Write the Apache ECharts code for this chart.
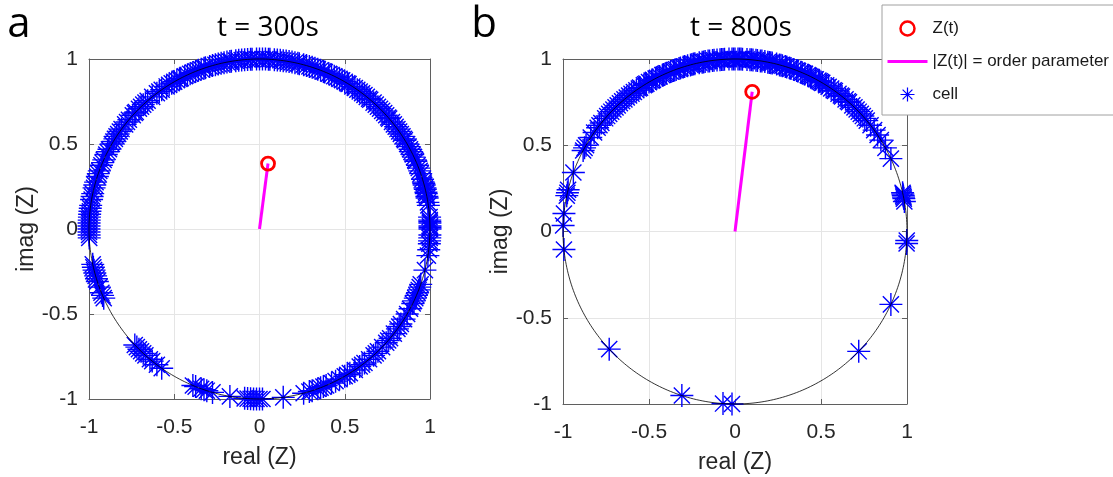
<!DOCTYPE html>
<html>
<head>
<meta charset="UTF-8">
<title>Z(t) order parameter</title>
<script src="https://cdn.jsdelivr.net/npm/echarts@6/dist/echarts.min.js"></script>
<style>
  html, body { margin: 0; padding: 0; background: #fff; }
  #main { width: 1113px; height: 477px; }
</style>
</head>
<body>
<div id="main"></div>
<script>
// cell phases in degrees
var phase300 = [
  0, 0.5, 1, 2, 2.5, 3, 4, 8, 9, 10.5, 11, 12, 12.5, 13.5, 14, 15, 15.5, 16, 17,
  19, 20, 21, 22, 23.5, 24, 25, 26, 27, 28, 29, 30, 31.5, 32, 33, 34, 35, 36, 37, 38, 39,
  40.5, 41, 42, 43, 44, 45, 46, 47, 48, 49.5, 50, 51, 52, 53, 54, 55, 56, 57, 58.5, 59,
  60, 61, 62, 63, 64, 65, 66, 67.5, 68, 69, 70, 71, 72, 73, 74, 75, 76.5, 77,
  78, 79, 80, 81, 82, 83, 84, 85, 86.5, 87, 88, 89,
  90, 91, 92.5, 93, 94, 95, 96, 97, 98, 99.5, 100, 101, 102, 103, 104, 105, 106, 107,
  108.5, 109, 110, 111, 112, 113, 114, 115, 116, 117.5, 118, 119, 120, 121, 122, 123,
  125, 126, 127, 129, 131, 132, 133, 134, 135, 136.5, 137, 138, 140, 141, 142,
  144, 145, 146, 147, 148, 149, 150, 152, 153, 154, 156, 157, 158, 160, 161, 162, 164,
  165, 166, 168, 169, 170, 172, 173, 174, 175, 176, 177, 178, 179, 180,
  181, 182, 183, 192, 193, 194, 195, 196, 197, 198, 200, 202, 203, 204,
  223, 224, 225, 226, 227, 228, 230, 231, 233, 235,
  247, 248, 250, 251, 252, 254, 260, 265, 266, 267, 268, 269, 270, 271, 278,
  285, 287, 288, 290, 291, 292, 293, 295, 296.5, 298, 300, 301, 302, 304, 306, 307, 308,
  310, 312, 313, 314, 316, 318, 319, 320, 322, 324, 325, 326, 328, 330, 332, 334, 335,
  336, 337, 338, 339, 340, 341, 346, 351, 353, 355, 356, 357, 358
];
var phase800 = [
  10, 11, 11.5, 12, 12.5, 13,
  25, 29, 32, 34, 36, 38, 40, 41, 42, 43, 44, 45, 46, 47, 48.5, 49, 50, 51.5, 52, 53,
  54.5, 55, 56, 57, 58, 59.5, 60, 60.5, 61, 62, 63.5, 64, 64.5, 65, 66, 67, 67.5, 68.5,
  69, 70, 71, 71.5, 72.5, 73, 74, 74.5, 75, 76, 77.5, 78, 78.5, 79, 80, 81, 81.5, 82.5,
  83, 84, 84.5, 85, 86, 87.5, 88, 88.5, 89, 90, 90.5, 91, 92, 93.5, 94, 94.5, 95, 96,
  97, 97.5, 98.5, 99, 100, 100.5, 101, 102, 103.5, 104, 104.5, 105, 106, 107, 107.5,
  108.5, 109, 110, 110.5, 111, 112, 113.5, 114, 114.5, 115, 116, 117, 117.5, 118.5,
  119, 120, 121, 121.5, 122, 123.5, 124, 125, 126, 127, 128, 129, 130, 131, 132, 133,
  134, 135, 136, 137, 138, 139, 141, 142, 143, 145, 147, 150, 151, 152,
  160, 166, 167, 168, 174, 178, 186,
  223, 252, 266, 269, 316, 335, 356, 357
];
// mean field Z(t) = real + i*imag
var z300 = [0.05, 0.385];
var z800 = [0.10, 0.81];

var axisMin = -1, axisMax = 1, axisStep = 0.5;
var panelTitles = ['t = 300s', 't = 800s'];
var panelLetters = ['a', 'b'];

var STAR = 'path://M0,-10L0,10M-10,0L10,0M-7,-7L7,7M-7,7L7,-7';
var INK = '#262626';
var BOX = '#5f5f5f';

function toPoints(phases) {
  return phases.map(function (a) {
    var r = a * Math.PI / 180;
    return [Math.cos(r), Math.sin(r)];
  });
}

// the reference unit circle
var circle = [];
for (var k = 0; k <= 360; k++) {
  circle.push([Math.cos(k * Math.PI / 180), Math.sin(k * Math.PI / 180)]);
}

var grids = [
  { left: 89, top: 59, width: 341, height: 340, outerBoundsMode: 'none' },
  { left: 563, top: 59, width: 344, height: 345, outerBoundsMode: 'none' }
];

var xAxes = [], yAxes = [], series = [];
var dataSets = [[phase300, z300], [phase800, z800]];

for (var g = 0; g < 2; g++) {
  var tick = { show: true, inside: true, length: 5, lineStyle: { color: BOX } };
  var line = { show: true, onZero: false, lineStyle: { color: BOX, width: 1 } };
  xAxes.push({
    gridIndex: g, type: 'value', position: 'bottom',
    min: axisMin, max: axisMax, interval: axisStep,
    name: 'real (Z)', nameLocation: 'middle', nameGap: 47,
    nameTextStyle: { fontSize: 23, color: INK, fontFamily: 'Liberation Sans' },
    axisLine: line, axisTick: tick,
    axisLabel: { show: true, fontSize: 21, color: INK, margin: 18, fontFamily: 'Liberation Sans' },
    splitLine: { show: true, lineStyle: { color: '#e5e5e5', width: 1 } }
  });
  xAxes.push({
    gridIndex: g, type: 'value', position: 'top',
    min: axisMin, max: axisMax, interval: axisStep,
    axisLine: line, axisTick: tick, axisLabel: { show: false }, splitLine: { show: false }
  });
  yAxes.push({
    gridIndex: g, type: 'value', position: 'left',
    min: axisMin, max: axisMax, interval: axisStep,
    name: 'imag (Z)', nameLocation: 'middle', nameGap: 51,
    nameTextStyle: { fontSize: 23, color: INK, fontFamily: 'Liberation Sans' },
    axisLine: line, axisTick: tick,
    axisLabel: { show: true, fontSize: 21, color: INK, margin: 11, fontFamily: 'Liberation Sans' },
    splitLine: { show: true, lineStyle: { color: '#e5e5e5', width: 1 } }
  });
  yAxes.push({
    gridIndex: g, type: 'value', position: 'right',
    min: axisMin, max: axisMax, interval: axisStep,
    axisLine: line, axisTick: tick, axisLabel: { show: false }, splitLine: { show: false }
  });

  var xi = g * 2, yi = g * 2;
  var z = dataSets[g][1];
  series.push({
    name: 'cell', type: 'scatter', xAxisIndex: xi, yAxisIndex: yi,
    data: toPoints(dataSets[g][0]),
    symbol: STAR, symbolSize: 23, clip: false, z: 2,
    itemStyle: { color: '#0000ff', borderColor: '#0000ff', borderWidth: 1.4, opacity: 1 },
    emphasis: { disabled: true }
  });
  series.push({
    name: 'unit circle', type: 'line', xAxisIndex: xi, yAxisIndex: yi,
    data: circle, symbol: 'none', smooth: false, clip: false, z: 3, silent: true,
    lineStyle: { color: '#000', width: 0.8 }
  });
  series.push({
    name: '|Z(t)| = order parameter', type: 'line', xAxisIndex: xi, yAxisIndex: yi,
    data: [[0, 0], z], symbol: 'none', z: 4,
    itemStyle: { color: '#ff00ff' },
    lineStyle: { color: '#ff00ff', width: 3 }
  });
  series.push({
    name: 'Z(t)', type: 'scatter', xAxisIndex: xi, yAxisIndex: yi,
    data: [z], symbol: 'circle', symbolSize: 13, z: 5, clip: false,
    itemStyle: { color: 'rgba(0,0,0,0)', borderColor: '#ff0000', borderWidth: 2.8, opacity: 1 }
  });
}

var graphics = [
  { type: 'text', x: 268, y: 28, style: { text: panelTitles[0], font: '28px "Open Sans"', fill: '#000', textAlign: 'center', textVerticalAlign: 'middle' } },
  { type: 'text', x: 741, y: 28, style: { text: panelTitles[1], font: '28px "Open Sans"', fill: '#000', textAlign: 'center', textVerticalAlign: 'middle' } },
  { type: 'text', x: 19, y: 25, style: { text: panelLetters[0], font: '42px "Open Sans"', fill: '#000', textAlign: 'center', textVerticalAlign: 'middle' } },
  { type: 'text', x: 484, y: 25, style: { text: panelLetters[1], font: '42px "Open Sans"', fill: '#000', textAlign: 'center', textVerticalAlign: 'middle' } }
];

var myChart = echarts.init(document.getElementById('main'), null, { renderer: 'canvas' });
myChart.setOption({
  animation: false,
  backgroundColor: '#fff',
  grid: grids,
  xAxis: xAxes,
  yAxis: yAxes,
  legend: {
    orient: 'vertical', left: 882, top: 5,
    padding: [15, 20, 12, 4],
    itemWidth: 40, itemHeight: 14, itemGap: 16,
    backgroundColor: '#fff', borderColor: '#a0a0a0', borderWidth: 1, borderRadius: 0,
    selectedMode: false,
    textStyle: { fontSize: 17, color: '#1a1a1a', fontFamily: 'Liberation Sans' },
    data: [
      { name: 'Z(t)', icon: 'circle', itemStyle: { color: 'rgba(0,0,0,0)', borderColor: '#ff0000', borderWidth: 2.5, opacity: 1 } },
      { name: '|Z(t)| = order parameter', itemStyle: { color: 'rgba(0,0,0,0)', opacity: 0, borderWidth: 0 }, lineStyle: { color: '#ff00ff', width: 3 } },
      { name: 'cell', icon: STAR, itemStyle: { color: '#0000ff', borderColor: '#0000ff', borderWidth: 1.2, opacity: 1 } }
    ],
    z: 10
  },
  graphic: graphics,
  series: series
});
</script>
</body>
</html>
